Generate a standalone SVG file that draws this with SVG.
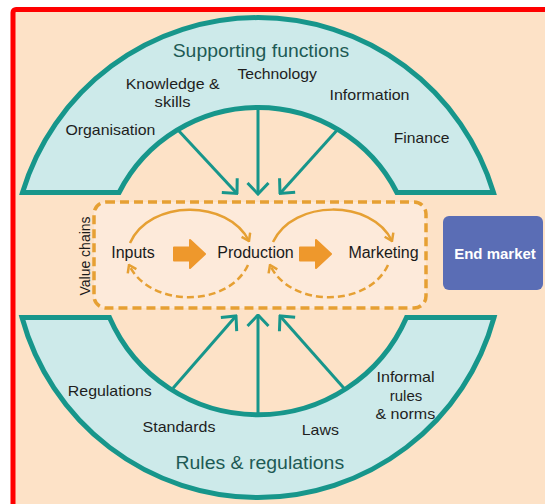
<svg xmlns="http://www.w3.org/2000/svg" width="545" height="504" viewBox="0 0 545 504">
<style>
  .band { fill: #cdeaea; stroke: #17968b; stroke-width: 5; stroke-linejoin: miter; }
  .lbl { font-family: "Liberation Sans", Arial, sans-serif; font-size: 15px; fill: #1e1e1e; text-anchor: middle; }
  .title { font-family: "Liberation Sans", Arial, sans-serif; font-size: 17.5px; fill: #1d5a55; text-anchor: middle; }
  .vc { font-family: "Liberation Sans", Arial, sans-serif; font-size: 16px; fill: #1a1a1a; text-anchor: middle; }
  .teal { stroke: #17968b; stroke-width: 3; fill: none; marker-end: url(#tealHead); }
  .curve { stroke: #e6a033; stroke-width: 2.5; fill: none; marker-end: url(#orangeHead); }
  .dash { stroke-dasharray: 7 4; }
  .block { fill: #ee982c; stroke: #ee982c; stroke-width: 2; stroke-linejoin: round; }
</style>
<defs>
  <marker id="tealHead" viewBox="0 0 14 24" refX="12.5" refY="12" markerWidth="14" markerHeight="24" markerUnits="userSpaceOnUse" orient="auto">
    <path d="M1.5,1.5 L12.5,12 L1.5,22.5" fill="none" stroke="#17968b" stroke-width="3"/>
  </marker>
  <marker id="orangeHead" viewBox="0 0 10 12" refX="8.5" refY="6" markerWidth="10" markerHeight="12" markerUnits="userSpaceOnUse" orient="auto">
    <path d="M1.5,1.2 L8.5,6 L1.5,10.8" fill="none" stroke="#e6a033" stroke-width="2.5"/>
  </marker>
</defs>

<rect x="0" y="0" width="545" height="504" fill="#ffffff"/>
<rect x="13" y="9.5" width="560" height="520" rx="3" fill="#fde2c7" stroke="#ff0000" stroke-width="5"/>

<g id="supporting-functions">
  <path class="band" d="M22.5 192.5 A246 246 0 0 1 493.5 192.5 L396.9 192.5 A156 156 0 0 0 119.1 192.5 Z"/>
  <text class="title" x="261" y="57" textLength="176.6" lengthAdjust="spacingAndGlyphs">Supporting functions</text>
  <text class="lbl" x="172.7" y="89.3" textLength="94" lengthAdjust="spacingAndGlyphs">Knowledge &amp;</text>
  <text class="lbl" x="172.6" y="106.7" textLength="36" lengthAdjust="spacingAndGlyphs">skills</text>
  <text class="lbl" x="277.2" y="79" textLength="79.6" lengthAdjust="spacingAndGlyphs">Technology</text>
  <text class="lbl" x="369.5" y="100" textLength="80" lengthAdjust="spacingAndGlyphs">Information</text>
  <text class="lbl" x="110.4" y="135" textLength="90" lengthAdjust="spacingAndGlyphs">Organisation</text>
  <text class="lbl" x="421.6" y="143.3" textLength="55.6" lengthAdjust="spacingAndGlyphs">Finance</text>
</g>

<g id="rules-regulations">
  <path class="band" d="M22 317.5 L109.5 317.5 A162 162 0 0 0 406.5 317.5 L494 317.5 A244.7 244.7 0 0 1 22 317.5 Z"/>
  <text class="title" x="259.8" y="468.5" textLength="168.6" lengthAdjust="spacingAndGlyphs">Rules &amp; regulations</text>
  <text class="lbl" x="109.8" y="395.7" textLength="84" lengthAdjust="spacingAndGlyphs">Regulations</text>
  <text class="lbl" x="179" y="431.7" textLength="73" lengthAdjust="spacingAndGlyphs">Standards</text>
  <text class="lbl" x="320.3" y="435" textLength="37.2" lengthAdjust="spacingAndGlyphs">Laws</text>
  <text class="lbl" x="405.5" y="382.3" textLength="58" lengthAdjust="spacingAndGlyphs">Informal</text>
  <text class="lbl" x="406" y="400.7">rules</text>
  <text class="lbl" x="405.3" y="419" textLength="59.8" lengthAdjust="spacingAndGlyphs">&amp; norms</text>
</g>

<g id="value-chains">
  <rect x="94" y="202" width="332" height="106" rx="12" fill="#fdeada" stroke="#e6a033" stroke-width="3.5" stroke-dasharray="9 5"/>
  <text font-family="Liberation Sans, Arial, sans-serif" font-size="14px" fill="#1a1a1a" text-anchor="middle" transform="translate(90 256) rotate(-90)">Value chains</text>
</g>

<g id="inputs"><text class="vc" x="133" y="258">Inputs</text></g>
<g id="production"><text class="vc" x="255.5" y="258">Production</text></g>
<g id="marketing"><text class="vc" x="383.5" y="258">Marketing</text></g>

<g id="end-market">
  <rect x="443" y="216" width="100" height="74" rx="6" fill="#5a6db5"/>
  <text font-family="Liberation Sans, Arial, sans-serif" font-size="15px" font-weight="bold" fill="#ffffff" text-anchor="middle" x="495" y="259">End market</text>
</g>

<g id="connectors">
  <line class="teal" x1="178" y1="130" x2="237" y2="193.5"/>
  <line class="teal" x1="258" y1="107.5" x2="258" y2="194"/>
  <line class="teal" x1="339" y1="128" x2="280" y2="193.5"/>
  <line class="teal" x1="173" y1="388.3" x2="236" y2="316"/>
  <line class="teal" x1="258" y1="415" x2="258" y2="315"/>
  <line class="teal" x1="344" y1="388.3" x2="280" y2="316"/>

  <polygon class="block" points="174,247.5 190,247.5 190,240 205,254 190,268 190,260.5 174,260.5"/>
  <polygon class="block" points="300,247.5 316,247.5 316,240 331,254 316,268 316,260.5 300,260.5"/>

  <path class="curve" d="M130 243 C150 199 228 199 249 241"/>
  <path class="curve dash" d="M248 265 C228 308 150 308 129 265"/>
  <path class="curve" d="M273 242 C293 199 372 199 392 241"/>
  <path class="curve dash" d="M388 265 C368 308 290 308 270 265"/>
</g>
</svg>
